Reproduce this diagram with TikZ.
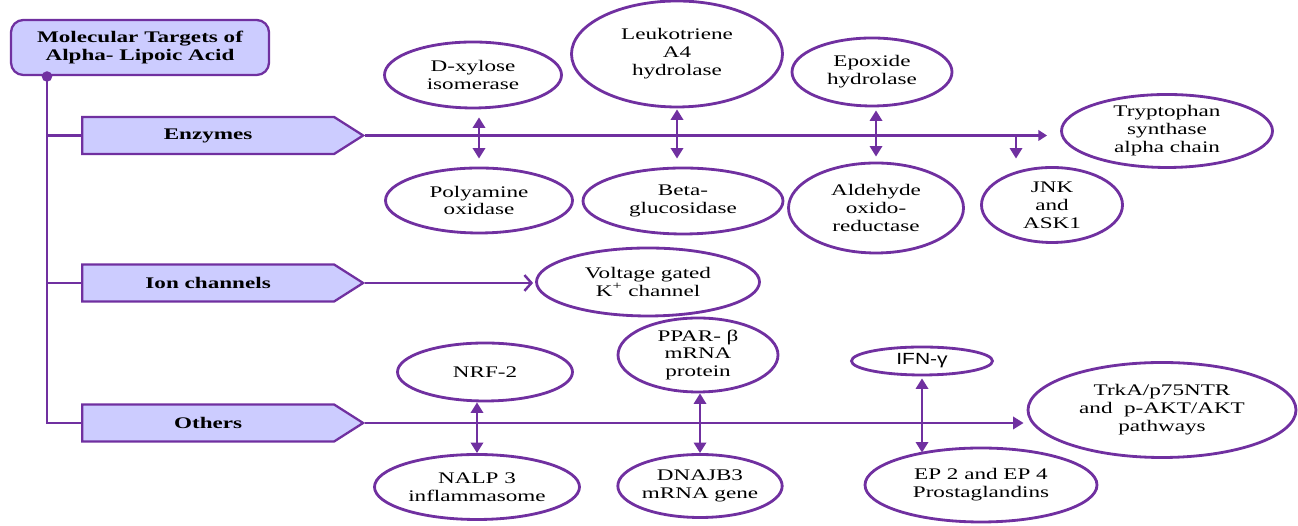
\documentclass[tikz,border=0pt]{standalone}
\usepackage{fontspec}
\setmainfont[FakeStretch=1.43]{Liberation Serif}
\newfontfamily\ifnfont[FakeStretch=1.3]{Liberation Sans}
\usetikzlibrary{shapes.geometric,shapes.symbols,arrows.meta}

\definecolor{lapurple}{HTML}{7030A0}
\definecolor{lafill}{HTML}{CCCCFF}

\tikzset{
  target/.style={ellipse, draw=lapurple, line width=1.6pt, align=center, inner sep=0pt,
    font=\fontsize{9.2}{10.2}\selectfont},
  group/.style={signal, signal to=east, signal pointer angle=65, draw=lapurple, fill=lafill,
    line width=1.3pt, minimum width=5.62cm, minimum height=0.74cm, anchor=west,
    font=\fontsize{9.2}{10.2}\selectfont\bfseries},
  link/.style={draw=lapurple, line width=1.4pt},
  onearrow/.style={-{Triangle[length=6pt,width=7pt]}},
  twoway/.style={{Triangle[length=6pt,width=7pt]}-{Triangle[length=6pt,width=7pt]}},
}

\begin{document}
\begin{tikzpicture}
  \useasboundingbox (0,0) rectangle (25.96,10.52);

  % root and the three groups
  \node[draw=lapurple, fill=lafill, line width=1.3pt, rounded corners=7pt, minimum width=5.16cm,
    minimum height=1.1cm, align=center, font=\fontsize{9.2}{10.2}\selectfont\bfseries] (root)
    at (2.8,9.57) {Molecular Targets of\\Alpha- Lipoic Acid};
  \coordinate (dot) at (0.94,8.99);
  \node[group] (enz) at (1.62,7.81) {Enzymes};
  \node[group] (ion) at (1.62,4.86) {Ion channels};
  \node[group] (oth) at (1.62,2.06) {Others};

  \fill[lapurple] (dot) circle (3pt);
  \draw[link] (dot) |- (oth.west);
  \draw[link] (dot |- enz.west) -- (enz.west);
  \draw[link] (dot |- ion.west) -- (ion.west);

  % enzymes
  \node[target, minimum width=3.54cm, minimum height=1.32cm] (dxyl) at (9.46,9.02) {D-xylose\\isomerase};
  \node[target, minimum width=3.74cm, minimum height=1.3cm] (polyox) at (9.58,6.51) {Polyamine\\oxidase};
  \node[target, minimum width=4.22cm, minimum height=2.12cm] (leuk) at (13.54,9.44) {Leukotriene\\A4\\hydrolase};
  \node[target, minimum width=4cm, minimum height=1.32cm] (beta) at (13.66,6.5) {Beta-\\glucosidase};
  \node[target, minimum width=3.2cm, minimum height=1.36cm] (epox) at (17.44,9.08) {Epoxide\\hydrolase};
  \node[target, minimum width=3.5cm, minimum height=1.8cm] (ald) at (17.52,6.36) {Aldehyde\\oxido-\\reductase};
  \node[target, minimum width=4.22cm, minimum height=1.46cm] (tryp) at (23.34,7.9) {Tryptophan\\synthase\\alpha chain};
  \node[target, minimum width=2.82cm, minimum height=1.5cm] (jnk) at (21.04,6.42) {JNK\\and\\ASK1};
  \coordinate (jbr) at (20.32,7.81);

  \draw[link, -{Triangle[length=5pt,width=6pt]}, shorten >=0.26cm] (enz.east) -- (enz.east -| tryp.west);
  \draw[link, onearrow, shorten >=0.15cm] (jbr) -- (jbr |- jnk.north);
  \draw[link, twoway, shorten <=0.16cm, shorten >=0.16cm] (dxyl.south -| polyox.north) -- (polyox.north);
  \draw[link, twoway, shorten <=0.02cm, shorten >=0.16cm] (leuk.south) -- (leuk.south |- beta.north);
  \draw[link, twoway, shorten <=0.06cm, shorten >=0.1cm] (epox.south -| ald.north) -- (ald.north);

  % ion channels
  \node[target, minimum width=4.46cm, minimum height=1.36cm] (volt) at (12.96,4.88) {Voltage gated\\K\textsuperscript{+} channel};
  \draw[link, -{Straight Barb[length=4pt,width=9pt]}, shorten >=0.04cm] (ion.east) -- (ion.east -| volt.west);

  % others
  \node[target, minimum width=3.5cm, minimum height=1.16cm] (nrf) at (9.7,3.08) {NRF-2};
  \node[target, minimum width=4.1cm, minimum height=1.3cm] (nalp) at (9.54,0.78) {NALP 3\\inflammasome};
  \node[target, minimum width=3.2cm, minimum height=1.48cm] (ppar) at (13.96,3.42) {PPAR- β\\mRNA\\protein};
  \node[target, minimum width=3.2cm, minimum height=1.26cm] (dnaj) at (14.0,0.8) {DNAJB3\\mRNA gene};
  \node[target, minimum width=2.82cm, minimum height=0.56cm] (ifn) at (18.44,3.3) {\ifnfont IFN-γ};
  \node[target, minimum width=4.64cm, minimum height=1.48cm] (ep) at (19.62,0.82) {EP 2 and EP 4\\Prostaglandins};
  \node[target, minimum width=5.36cm, minimum height=1.9cm] (trk) at (23.24,2.32) {TrkA/p75NTR\\and\ \ p-AKT/AKT\\pathways};

  \draw[link, onearrow, shorten >=0.06cm] (oth.east) -- (oth.east -| trk.west);
  \draw[link, twoway] (nrf.south -| nalp.north) -- (nalp.north);
  \draw[link, twoway] (ppar.south -| dnaj.north) -- (dnaj.north);
  \draw[link, twoway, shorten <=0.04cm, shorten >=-0.12cm] (ifn.south) -- (ifn.south |- ep.north);
\end{tikzpicture}
\end{document}
